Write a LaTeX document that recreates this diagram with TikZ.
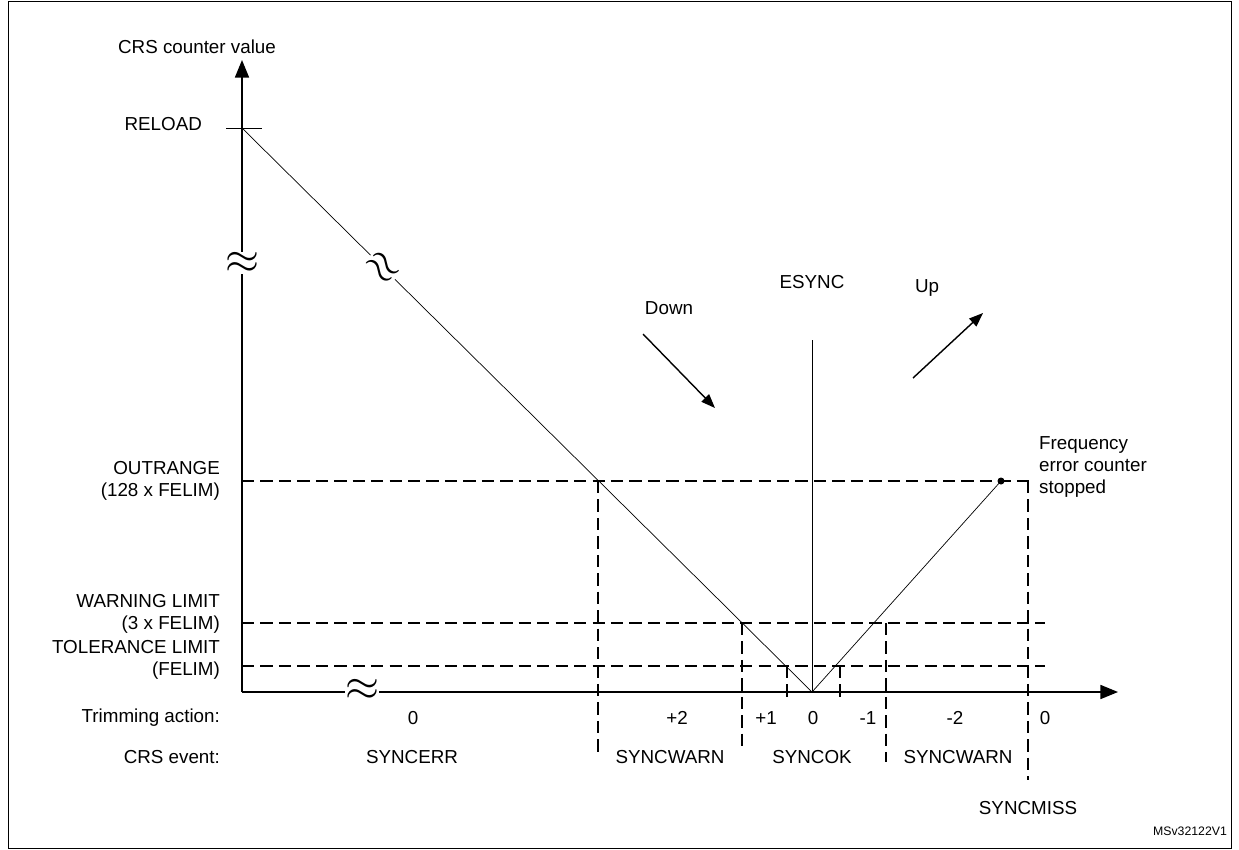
\documentclass[tikz,border=0pt]{standalone}
\usepackage{fontspec}
\setmainfont{Liberation Sans}
\usetikzlibrary{arrows.meta}
\begin{document}
\begin{tikzpicture}[
  x=0.02cm, y=-0.02cm,
  font=\fontsize{10.7}{12.5}\selectfont,
  axis/.style={thick, -{Triangle[length=10pt,width=8pt]}},
  limit/.style={thick, dash pattern=on 7pt off 3.5pt},
  lbl/.style={align=right, anchor=east, inner sep=1pt},
  brk/.style={fill=white, inner sep=0pt, font=\fontsize{26}{26}\selectfont}
]
\useasboundingbox (0,0) rectangle (1239,849);
\draw (8,1) rectangle (1231,848);

% axes
\coordinate (origin) at (242,692);
\draw[axis] (origin) -- (242,60) coordinate (ytip);
\draw[axis] (origin) -- (1118,692) coordinate (xtip);
\node (ylab) at (197,47) {CRS counter value};

% counter levels
\coordinate (reload) at (242,128);
\coordinate (zero) at (812,692);
\coordinate (stop) at (1001,481);
\draw (226,128) -- (262,128);
\node[lbl] (reloadlab) at (204,124) {RELOAD};
\draw (reload) -- (zero) -- (stop);
\fill (stop) circle (3.5);
\node[align=left, anchor=west] (stoplab) at (1033,467) {Frequency\\error counter\\stopped};

% limits
\draw[limit] (242,481) -- (1035,481);
\draw[limit] (242,623) -- (1045,623);
\draw[limit] (242,666) -- (1045,666);
\node[lbl] (outlab) at (222,481) {OUTRANGE\\(128 x FELIM)};
\node[lbl] (warnlab) at (222,614) {WARNING LIMIT\\(3 x FELIM)};
\node[lbl] (tollab) at (222,660) {TOLERANCE LIMIT\\(FELIM)};

% vertical boundaries
\draw[limit] (598,481) -- (598,752);
\draw[limit] (742,623) -- (742,752);
\draw[limit] (787,666) -- (787,702);
\draw[limit] (840,666) -- (840,702);
\draw[limit] (886,623) -- (886,762);
\draw[limit] (1028,481) -- (1028,780);

% ESYNC
\draw (812,340) -- (zero);
\node (esync) at (812,282) {ESYNC};
\draw[thick, -{Triangle[length=8pt,width=6pt]}] (643,334) -- (715,408);
\node (down) at (669,308) {Down};
\draw[thick, -{Triangle[length=8pt,width=6pt]}] (913,378) -- (983,313);
\node (up) at (927,288) {Up};

% breaks
\node[brk] (b1) at (242,263) {$\approx$};
\node[brk, rotate=-45] (b2) at (382,268) {$\approx$};
\node[brk] (b3) at (362,690) {$\approx$};

% rows
\node[lbl] (trim) at (222,718) {Trimming action:};
\node[lbl] (event) at (222,757) {CRS event:};
\foreach \x/\t in {413/0, 677/+2, 766/+1, 813/0, 868/-1, 955/-2, 1045/0}
  \node at (\x,718) {\t};
\foreach \x/\t in {412/SYNCERR, 670/SYNCWARN, 812/SYNCOK, 958/SYNCWARN}
  \node at (\x,757) {\t};
\node (miss) at (1028,808) {SYNCMISS};
\node[font=\fontsize{7}{8}\selectfont] (ref) at (1190,831) {MSv32122V1};
\end{tikzpicture}
\end{document}
